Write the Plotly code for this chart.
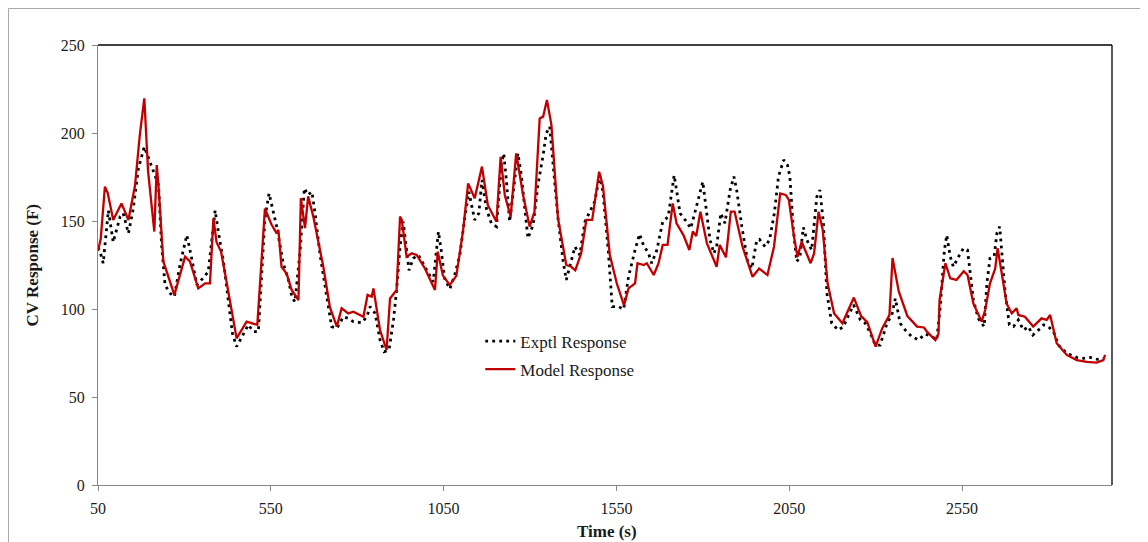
import plotly.graph_objects as go

# ---- Data ----
exptl_time = [50, 56, 65, 80, 94, 114, 123, 138, 152, 167, 184, 200, 210, 225, 234, 244, 258, 271, 287, 307,
              321, 336, 355, 369, 389, 398, 413, 427, 439, 451, 466, 485, 500, 514, 524, 533, 545, 557, 567, 586,
              601, 611, 620, 635, 647, 657, 669, 678, 692, 712, 726, 741, 760, 774, 789, 813, 828, 837, 852, 866,
              878, 892, 905, 914, 924, 933, 943, 950, 962, 977, 1006, 1020, 1035, 1043, 1053, 1068, 1082, 1097, 1111, 1123,
              1135, 1140, 1152, 1161, 1174, 1188, 1203, 1217, 1224, 1232, 1241, 1265, 1275, 1287, 1294, 1309, 1323, 1338, 1347, 1357,
              1367, 1381, 1396, 1405, 1415, 1430, 1444, 1459, 1473, 1487, 1502, 1511, 1526, 1538, 1557, 1571, 1585, 1595, 1604, 1617,
              1628, 1643, 1652, 1667, 1684, 1700, 1717, 1724, 1734, 1753, 1765, 1780, 1800, 1809, 1821, 1832, 1840, 1852, 1864, 1879,
              1890, 1898, 1913, 1929, 1942, 1956, 1964, 1980, 1993, 2007, 2019, 2034, 2045, 2052, 2062, 2072, 2081, 2091, 2101, 2115,
              2130, 2139, 2149, 2159, 2173, 2192, 2207, 2222, 2236, 2256, 2270, 2285, 2299, 2313, 2333, 2347, 2357, 2371, 2386, 2405,
              2424, 2443, 2463, 2477, 2487, 2499, 2506, 2516, 2525, 2540, 2554, 2566, 2572, 2583, 2597, 2614, 2622, 2631, 2643, 2651,
              2659, 2665, 2675, 2687, 2699, 2713, 2728, 2742, 2755, 2771, 2786, 2800, 2815, 2829, 2853, 2882, 2902, 2921, 2941, 2960]
exptl_resp = [135, 132.6, 126, 156, 138, 152.5, 154.4, 143, 157, 180, 192.2, 183.7, 179, 170.5, 136.4, 113.6, 109, 107, 125, 142,
              128.8, 113.6, 117.8, 121.2, 156, 144, 127, 106, 86.2, 78.6, 84.3, 91, 87.1, 87.1, 121.2, 151.5, 165.7, 154.4, 146.8, 126,
              116.5, 107, 104, 133.5, 168.6, 164.8, 166.6, 154.4, 131.6, 107, 90, 89, 95.6, 94.7, 92.8, 92.2, 95.6, 101.3, 97.5, 82.4,
              75.7, 76.7, 93.8, 110.8, 135.4, 149.6, 133.5, 122, 128.8, 130.7, 120.3, 115.5, 144, 133.5, 117.4, 111.4, 119.3, 130.7, 151.5, 166.6,
              155.3, 150.6, 154.4, 173.3, 157, 148.7, 146.8, 181.8, 188.4, 172.3, 149.6, 188.4, 176, 153.4, 140.2, 147.7, 170.5, 187.5, 199.8, 203.6,
              180, 151.5, 127, 116.5, 124, 135.4, 130.7, 149.6, 155.3, 161, 176, 166.6, 134.5, 101.3, 101.3, 99.8, 118.3, 127, 133.5, 142.6,
              136.4, 131.6, 126, 133.5, 149.6, 152.5, 176, 167.6, 154.4, 149.6, 145.8, 157, 172.3, 158.1, 139.2, 131.6, 135.4, 154.4, 148.7, 167.6,
              175.2, 167.6, 146.8, 127.8, 123, 139.2, 139.6, 135.4, 139.2, 154.4, 175.2, 184.7, 181.8, 175.2, 145, 126.9, 129.7, 146.4, 139.2, 133.5,
              163.8, 167.6, 148.7, 109, 91.9, 88, 90, 96.6, 102.3, 93.8, 91.9, 86.2, 79.5, 79.5, 91.9, 96.6, 106, 91.9, 88, 84.3,
              82.4, 85.8, 84.3, 82.4, 101.3, 133.5, 142, 129.7, 124, 129.7, 134.5, 133.5, 124, 105, 94.7, 90, 114.6, 128.8, 129.7, 143,
              146.8, 133.5, 109, 91, 90, 93.8, 88, 90, 85.2, 88, 91, 90, 87, 79.5, 74.8, 72.5, 72, 72.5, 71.4, 72]

model_time = [50, 58, 70, 78, 94, 118, 138, 157, 171, 184, 195, 213, 220, 225, 239, 271, 302, 316, 340, 360,
              374, 384, 393, 406, 422, 437, 451, 480, 495, 511, 533, 552, 567, 572, 581, 596, 610, 630, 637, 649,
              658, 673, 702, 721, 741, 755, 774, 789, 818, 830, 842, 847, 866, 885, 895, 914, 924, 929, 943, 958,
              972, 996, 1025, 1033, 1048, 1068, 1087, 1106, 1121, 1140, 1161, 1178, 1203, 1215, 1227, 1244, 1260, 1280, 1299, 1313,
              1328, 1338, 1349, 1362, 1381, 1405, 1419, 1431, 1448, 1463, 1480, 1500, 1511, 1531, 1551, 1572, 1585, 1604, 1611, 1629,
              1638, 1658, 1672, 1684, 1698, 1713, 1724, 1744, 1761, 1771, 1781, 1793, 1812, 1840, 1849, 1867, 1881, 1892, 1915, 1944,
              1963, 1987, 2006, 2024, 2040, 2049, 2064, 2074, 2086, 2100, 2112, 2122, 2135, 2147, 2161, 2180, 2204, 2237, 2258, 2276,
              2300, 2319, 2340, 2349, 2367, 2392, 2420, 2440, 2449, 2473, 2482, 2485, 2502, 2516, 2534, 2555, 2566, 2583, 2607, 2617,
              2631, 2646, 2653, 2665, 2679, 2694, 2708, 2713, 2732, 2756, 2780, 2795, 2805, 2824, 2853, 2882, 2911, 2940, 2959, 2964]
model_resp = [133, 140, 169.5, 166, 150.6, 160, 150.6, 170, 199, 219.7, 178, 144, 181.8, 170, 127, 108, 129.7, 127, 111.7, 114.6,
              114.6, 151.5, 138, 132.6, 115.5, 98.5, 83.3, 92.8, 91.9, 91, 157, 148, 143, 145, 124, 120, 111, 105, 163, 146,
              164, 152.5, 124, 101, 90, 100.4, 97.5, 98.5, 95.6, 108, 107, 111.7, 88, 76.7, 106, 110.8, 152.5, 150.6, 129.7, 131.6,
              130.7, 123, 110.8, 132.6, 119, 113.6, 119, 144, 171.4, 162.9, 180.9, 159, 149.6, 186.5, 164.8, 152.5, 188.4, 164.8, 146.8, 155.3,
              208.3, 209.3, 218.8, 204.5, 151.5, 125, 124, 122, 131.6, 150.6, 150.6, 178, 170, 130.7, 114.6, 102, 111.7, 114.6, 126, 125,
              126, 119.3, 126, 136.4, 136.4, 160, 148.7, 142, 133.5, 144, 141.5, 155.3, 137.3, 124, 136.4, 129.4, 155.3, 155.3, 135.4, 118.3,
              123, 119.3, 135.4, 165.7, 164.8, 162, 141, 129.7, 138.2, 131.6, 126, 131.6, 155.3, 145, 114.6, 97.5, 91.9, 106.5, 96, 92.5,
              78.6, 89, 96.5, 129, 110, 96, 90, 89.5, 87, 82.4, 86, 105, 126, 117.4, 116.5, 121.5, 119.3, 103, 92.8, 99.4,
              114.6, 123, 134.5, 120.3, 103, 97.5, 100.4, 96.6, 95.6, 90, 94.7, 93.8, 96.6, 80.5, 73.9, 71, 70, 69.5, 71, 73.9]

x_ticks = [50, 550, 1050, 1550, 2050, 2550]
y_ticks = [0, 50, 100, 150, 200, 250]

FONT = "Liberation Serif"
AXIS_GRAY = "#868686"
TEXT = "#1a1a1a"

fig = go.Figure()
fig.add_trace(go.Scatter(
    x=exptl_time, y=exptl_resp, mode="lines", name="Exptl Response",
    line=dict(color="#000000", width=2.8, dash="2.8px,4.2px"), legendgroup="a"))
fig.add_trace(go.Scatter(
    x=model_time, y=model_resp, mode="lines", name="Model Response",
    line=dict(color="#C00000", width=2.3), legendgroup="b"))

fig.update_layout(
    width=1148, height=542,
    margin=dict(l=90, r=44, t=37, b=65),
    paper_bgcolor="white", plot_bgcolor="white",
    font=dict(family=FONT, size=16, color=TEXT),
    showlegend=True,
    legend=dict(x=0.377, y=0.367, xanchor="left", yanchor="top",
                bgcolor="rgba(0,0,0,0)", font=dict(family=FONT, size=17, color=TEXT),
                traceorder="grouped", tracegroupgap=3),
    xaxis=dict(range=[50, 2984], tickvals=x_ticks, ticktext=[str(v) for v in x_ticks],
               showgrid=False, zeroline=False, showline=True, linecolor=AXIS_GRAY, linewidth=1,
               ticks="outside", ticklen=5, tickcolor=AXIS_GRAY, ticklabelstandoff=4,
               tickfont=dict(family=FONT, size=16, color=TEXT)),
    yaxis=dict(range=[0, 250], tickvals=y_ticks,
               showgrid=False, zeroline=False, showline=True, linecolor=AXIS_GRAY, linewidth=1,
               ticks="outside", ticklen=5, tickcolor=AXIS_GRAY, ticklabelstandoff=4,
               tickfont=dict(family=FONT, size=16, color=TEXT)),
    shapes=[
        dict(type="line", xref="paper", yref="paper", x0=0, x1=1, y0=1, y1=1,
             line=dict(color="#000000", width=1.3)),
        dict(type="line", xref="paper", yref="paper", x0=1, x1=1, y0=0, y1=1,
             line=dict(color="#000000", width=1.3)),
        dict(type="rect", xref="paper", yref="paper", x0=-0.0883, x1=1.0286, y0=-0.2, y1=1.083,
             line=dict(color="#a6a6a6", width=1), layer="above"),
    ],
    annotations=[
        dict(text="<b>CV Response (F)</b>", xref="paper", yref="paper", x=-0.076, y=0.5,
             textangle=-90, showarrow=False, font=dict(family=FONT, size=17, color=TEXT)),
        dict(text="<b>Time (s)</b>", xref="paper", yref="paper", x=0.502, y=-0.132,
             showarrow=False, font=dict(family=FONT, size=17, color=TEXT)),
    ],
)

fig.write_html("out.html")
